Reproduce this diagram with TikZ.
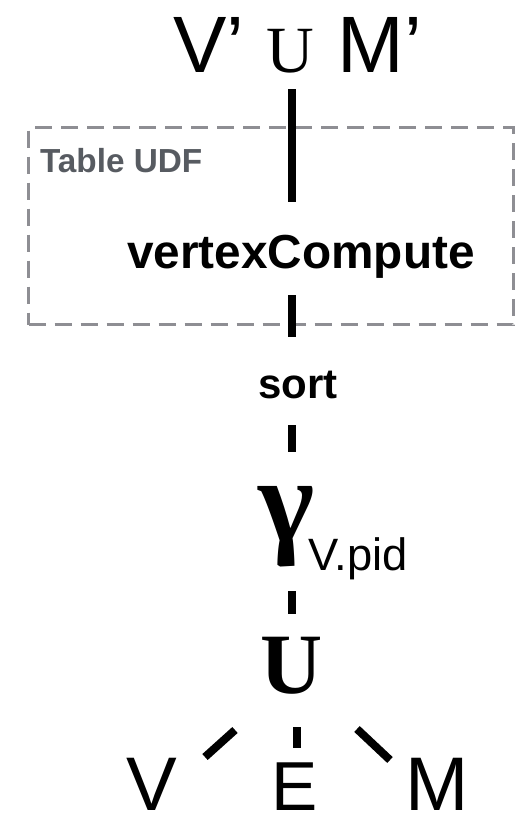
\documentclass[tikz,border=0pt]{standalone}
\usepackage{fontspec}
\setmainfont{Liberation Sans}
\newfontfamily\myserif{Liberation Serif}
\usetikzlibrary{calc}
\definecolor{boxgray}{HTML}{8E8E93}
\definecolor{labelgray}{HTML}{575B61}
\begin{document}
\begin{tikzpicture}[x=0.75pt,y=-0.75pt,
  lbl/.style={inner sep=0pt, outer sep=0pt, anchor=base},
  conn/.style={line width=6pt, black, line cap=butt},
  udf/.style={draw=boxgray, line width=2.25pt, dash pattern=on 12.75pt off 6.75pt, inner sep=0pt}]
\useasboundingbox (0,0) rectangle (520,821);
% dashed frame
\node[udf, minimum width=363.75pt, minimum height=147.75pt, anchor=north west] (udfbox) at (27,126) {};
\node[lbl, anchor=base west, text=labelgray, font=\fontsize{25}{30}\selectfont\bfseries] (udflabel) at (40,172) {Table UDF};
% top expression
\node[lbl, font=\fontsize{60}{70}\selectfont] (vp) at (209,72) {V’};
\node[lbl, font=\fontsize{49.5}{60}\myserif] (topu) at (290,72) {U};
\node[lbl, font=\fontsize{60}{70}\selectfont] (mp) at (380,72) {M’};
% operators
\node[lbl, font=\fontsize{35.8}{42}\selectfont\bfseries] (vc) at (301,268) {vertexCompute};
\node[lbl, font=\fontsize{31.5}{38}\selectfont\bfseries] (sort) at (298,398) {sort};
\node[inner sep=0pt, font=\fontsize{90}{100}\myserif\bfseries] (gamma) at (287,527) {γ};
\node[lbl, font=\fontsize{34}{40}\selectfont] (gsub) at (358,570) {V.pid};
\node[lbl, font=\fontsize{64.5}{75}\myserif\bfseries] (uni) at (292,693) {U};
\node[lbl, font=\fontsize{57}{66}\selectfont] (v) at (152,810) {V};
\node[lbl, font=\fontsize{52}{62}\selectfont] (e) at (295,810) {E};
\node[lbl, font=\fontsize{57}{66}\selectfont] (m) at (437,810) {M};
% connectors
\draw[conn] ($(topu.base)+(2,17)$) -- ($(vc.base)+(-9,-66)$);
\draw[conn] ($(vc.base)+(-9,27)$) -- ($(sort.base)+(-6,-61)$);
\draw[conn] ($(sort.base)+(-6,27)$) -- ($(sort.base)+(-6,54)$);
\draw[conn] ($(gamma.center)+(5,64)$) -- ($(uni.base)+(0,-79)$);
\draw[conn] ($(uni.base)+(-57,37)$) -- ($(v.base)+(53,-53)$);
\draw[conn] ($(uni.base)+(5,34)$) -- ($(e.base)+(2,-62)$);
\draw[conn] ($(uni.base)+(65,36)$) -- ($(m.base)+(-47,-50)$);
\end{tikzpicture}
\end{document}
